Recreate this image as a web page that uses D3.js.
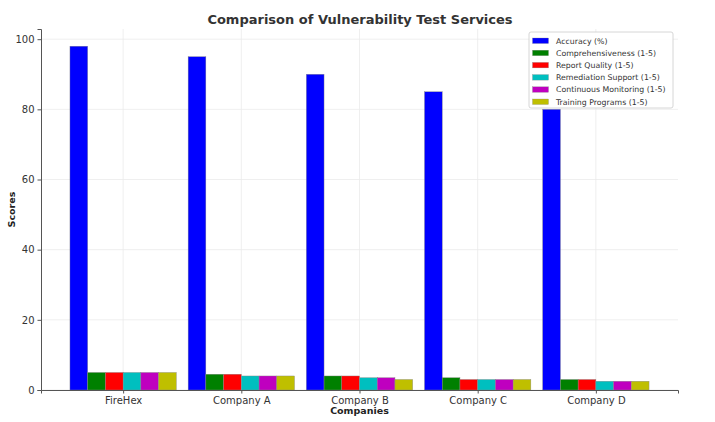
<!DOCTYPE html>
<html><head><meta charset="utf-8">
<script src="https://cdn.jsdelivr.net/npm/d3@7"></script>
<style>body{margin:0;background:#fff}svg{display:block;font-family:"DejaVu Sans",sans-serif}</style>
</head><body><svg id="c" width="715" height="422"></svg>
<script>
const companies = ["FireHex","Company A","Company B","Company C","Company D"];
const seriesNames = ["Accuracy (%)","Comprehensiveness (1-5)","Report Quality (1-5)","Remediation Support (1-5)","Continuous Monitoring (1-5)","Training Programs (1-5)"];
const accuracy = [98,95,90,85,80];
const comprehensiveness = [5,4.5,4,3.5,3];
const reportQuality = [5,4.5,4,3,3];
const remediation = [5,4,3.5,3,2.5];
const monitoring = [5,4,3.5,3,2.5];
const training = [5,4,3,3,2.5];
const colors = ["#0000ff","#008000","#ff0000","#00bfbf","#bf00bf","#bfbf00"];
const yTicks = [0,20,40,60,80,100];

const series = [accuracy,comprehensiveness,reportQuality,remediation,monitoring,training];
const svg = d3.select("#c");
const m = {l:41, r:678, t:29, b:390};
const n = companies.length;
const barW = 0.15;
const dataMin = -0.45, dataMax = (n-1) + 0.45;
const pad = (dataMax-dataMin)*0.05;
const x = d3.scaleLinear().domain([dataMin-pad, dataMax+pad]).range([m.l, m.r]);
const yMax = d3.max(accuracy)*1.05;
const y = d3.scaleLinear().domain([0, yMax]).range([m.b, m.t]);

// grid
const g = svg.append("g");
g.selectAll(".hg").data(yTicks).join("line")
  .attr("x1",m.l).attr("x2",m.r).attr("y1",d=>y(d)).attr("y2",d=>y(d))
  .attr("stroke","#ebebeb").attr("stroke-width",0.8);
g.selectAll(".vg").data(companies).join("line")
  .attr("x1",(d,i)=>x(i)).attr("x2",(d,i)=>x(i)).attr("y1",m.t).attr("y2",m.b)
  .attr("stroke","#ebebeb").attr("stroke-width",0.8);

// bars
series.forEach((vals,s)=>{
  svg.append("g").selectAll("rect").data(vals).join("rect")
    .attr("x",(d,i)=>x(i - 0.45 + s*barW))
    .attr("width",x(barW)-x(0))
    .attr("y",d=>y(d)).attr("height",d=>y(0)-y(d))
    .attr("fill",colors[s]).attr("stroke","#888").attr("stroke-width",0.4);
});

// axes
const ya = svg.append("g").attr("transform",`translate(${m.l},0)`)
  .call(d3.axisLeft(y).tickValues(yTicks).tickSize(3.5).tickPadding(3));
ya.select(".domain").attr("stroke","#555");
ya.selectAll(".tick line").attr("stroke","#555");
ya.selectAll("text").attr("font-size",10).attr("fill","#333").attr("font-family","DejaVu Sans");
const xa = svg.append("g").attr("transform",`translate(0,${m.b})`)
  .call(d3.axisBottom(x).tickValues(d3.range(n)).tickFormat(i=>companies[i]).tickSize(3.5).tickPadding(3));
xa.select(".domain").attr("stroke","#555");
xa.selectAll(".tick line").attr("stroke","#555");
xa.selectAll("text").attr("font-size",10).attr("fill","#333").attr("font-family","DejaVu Sans");

// labels
svg.append("text").attr("x",360).attr("y",24).attr("text-anchor","middle")
  .attr("font-size",13).attr("font-weight","bold").attr("fill","#333")
  .text("Comparison of Vulnerability Test Services");
svg.append("text").attr("x",(m.l+m.r)/2).attr("y",414).attr("text-anchor","middle")
  .attr("font-size",9.5).attr("font-weight","bold").attr("fill","#222").text("Companies");
svg.append("text").attr("transform",`translate(15,${(m.t+m.b)/2}) rotate(-90)`).attr("text-anchor","middle")
  .attr("font-size",9.5).attr("font-weight","bold").attr("fill","#222").text("Scores");

// legend
const lg = svg.append("g").attr("transform","translate(529,32)");
lg.append("rect").attr("width",144).attr("height",76).attr("rx",2)
  .attr("fill","#fff").attr("fill-opacity",0.9).attr("stroke","#ccc").attr("stroke-width",0.8);
seriesNames.forEach((name,i)=>{
  lg.append("rect").attr("x",3.5).attr("y",6+i*12.2).attr("width",16).attr("height",5.5)
    .attr("fill",colors[i]).attr("stroke","#888").attr("stroke-width",0.3);
  lg.append("text").attr("x",27).attr("y",11.5+i*12.2).attr("font-size",7.8).attr("fill","#333").text(name);
});
</script></body></html>
